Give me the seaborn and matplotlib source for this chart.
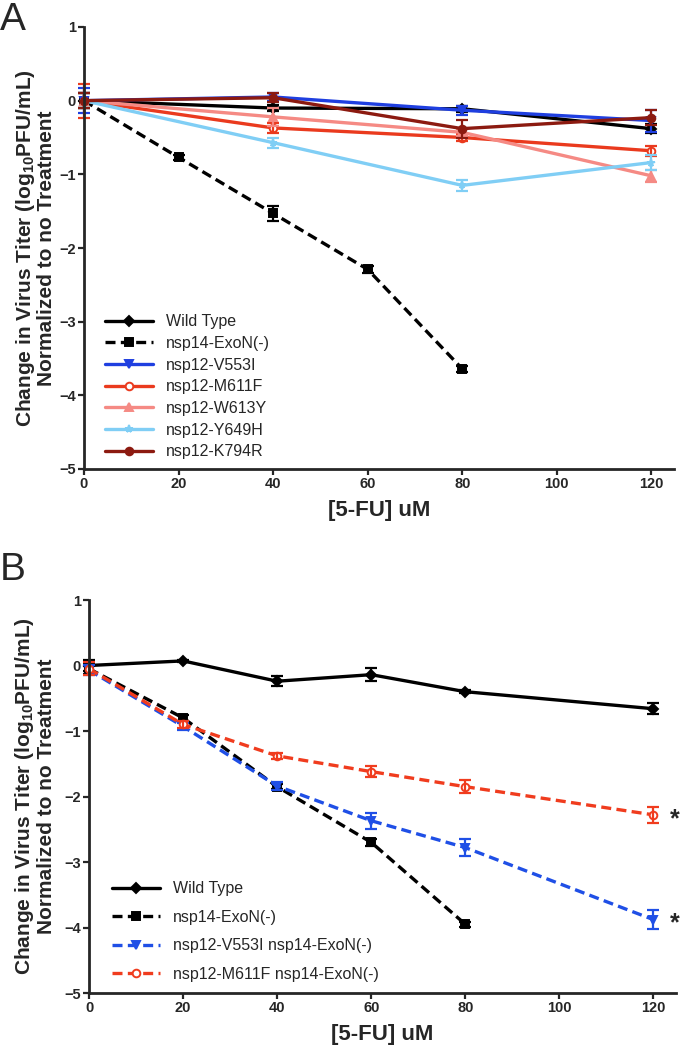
import numpy as np
import matplotlib
matplotlib.use("Agg")
import matplotlib.pyplot as plt
import seaborn as sns

# Panel A: single nsp12 mutants vs 5-FU
conc = [0, 40, 80, 120]
conc_exon = [0, 20, 40, 60, 80]

a_wt = [0, -0.10, -0.11, -0.38]
a_wt_err = [0.10, 0.04, 0.04, 0.06]
a_exon = [0, -0.77, -1.53, -2.29, -3.64]
a_exon_err = [0.10, 0.03, 0.10, 0.05, 0.04]
a_v553i = [0, 0.05, -0.13, -0.27]
a_v553i_err = [0.17, 0.06, 0.06, 0.15]
a_m611f = [0, -0.37, -0.50, -0.68]
a_m611f_err = [0.23, 0.07, 0.05, 0.07]
a_w613y = [0, -0.22, -0.43, -1.02]
a_w613y_err = [0.10, 0.12, 0.05, 0.08]
a_y649h = [0, -0.57, -1.15, -0.84]
a_y649h_err = [0.10, 0.07, 0.07, 0.10]
a_k794r = [0, 0.04, -0.38, -0.23]
a_k794r_err = [0.10, 0.06, 0.12, 0.10]

# Panel B: nsp12 mutants in the nsp14-ExoN(-) background
conc_b = [0, 20, 40, 60, 80, 120]
b_wt = [0, 0.07, -0.24, -0.14, -0.40, -0.66]
b_wt_err = [0.08, 0.02, 0.08, 0.10, 0.02, 0.08]
b_exon = [-0.05, -0.80, -1.85, -2.70, -3.95]
b_exon_err = [0.08, 0.05, 0.04, 0.05, 0.04]
b_v553i = [-0.07, -0.93, -1.84, -2.37, -2.78, -3.88]
b_v553i_err = [0.08, 0.05, 0.06, 0.12, 0.13, 0.15]
b_m611f = [-0.05, -0.90, -1.38, -1.62, -1.85, -2.28]
b_m611f_err = [0.10, 0.05, 0.05, 0.08, 0.10, 0.12]

sns.set_style("ticks")
plt.rcParams["font.family"] = ["Liberation Sans", "DejaVu Sans"]
plt.rcParams["mathtext.fontset"] = "custom"
plt.rcParams["mathtext.bf"] = "Liberation Sans:bold"
plt.rcParams["mathtext.rm"] = "Liberation Sans:bold"
plt.rcParams["mathtext.default"] = "bf"

fig = plt.figure(figsize=(6.8, 10.53), dpi=100)
ax_a = fig.add_axes([84 / 680, 1 - 469 / 1053, 590 / 680, 442 / 1053])
ax_b = fig.add_axes([89 / 680, 1 - 993 / 1053, 587 / 680, 393 / 1053])

DASH = (0, (3, 1.6))


def draw(ax, x, y, err, name, color, marker, ls, mfc=None):
    sns.lineplot(x=x, y=y, ax=ax, color=color, marker=marker, linestyle=ls,
                 lw=2.4, markersize=5.5, markeredgecolor=color,
                 markeredgewidth=1.4, markerfacecolor=mfc or color,
                 label=name, errorbar=None, sort=False)
    ax.errorbar(x, y, yerr=err, fmt="none", ecolor=color, elinewidth=1.6,
                capsize=4.5, capthick=1.6)


draw(ax_a, conc, a_wt, a_wt_err, "Wild Type", "black", "D", "-")
draw(ax_a, conc_exon, a_exon, a_exon_err, "nsp14-ExoN(-)", "black", "s", DASH)
draw(ax_a, conc, a_v553i, a_v553i_err, "nsp12-V553I", "#1f3fe0", "v", "-")
draw(ax_a, conc, a_m611f, a_m611f_err, "nsp12-M611F", "#ea3a1e", "o", "-", mfc="white")
draw(ax_a, conc, a_w613y, a_w613y_err, "nsp12-W613Y", "#f58a84", "^", "-")
draw(ax_a, conc, a_y649h, a_y649h_err, "nsp12-Y649H", "#80cef5", "*", "-")
draw(ax_a, conc, a_k794r, a_k794r_err, "nsp12-K794R", "#8c1a10", "o", "-")

draw(ax_b, conc_b, b_wt, b_wt_err, "Wild Type", "black", "D", "-")
draw(ax_b, conc_exon, b_exon, b_exon_err, "nsp14-ExoN(-)", "black", "s", DASH)
draw(ax_b, conc_b, b_v553i, b_v553i_err, "nsp12-V553I nsp14-ExoN(-)", "#1f4fe6", "v", DASH)
draw(ax_b, conc_b, b_m611f, b_m611f_err, "nsp12-M611F nsp14-ExoN(-)", "#f03c1e", "o", DASH, mfc="white")

ylab = "Change in Virus Titer (log$_{10}$PFU/mL)\nNormalized to no Treatment"
for ax in (ax_a, ax_b):
    ax.set_xlim(0, 124.8)
    ax.set_ylim(-5, 1)
    ax.set_xticks([0, 20, 40, 60, 80, 100, 120])
    ax.set_yticks([-5, -4, -3, -2, -1, 0, 1])
    sns.despine(ax=ax)
    for s in ("left", "bottom"):
        ax.spines[s].set_linewidth(2.0)
        ax.spines[s].set_clip_on(False)
    ax.tick_params(width=1.6, length=4, labelsize=10.5, pad=2)
    for lab in ax.get_xticklabels() + ax.get_yticklabels():
        lab.set_fontweight("bold")
    ax.set_xlabel("[5-FU] uM", fontsize=16, fontweight="bold", labelpad=6)
    ax.set_ylabel(ylab, fontsize=15, fontweight="bold", linespacing=1.05)
    for line in ax.lines:
        line.set_clip_on(False)
    for c in ax.collections:
        c.set_clip_on(False)

ax_a.yaxis.set_label_coords(-0.047, 0.5)
ax_b.yaxis.set_label_coords(-0.056, 0.5)

ax_a.legend(loc="lower left", bbox_to_anchor=(0.02, 0.0), frameon=False,
            fontsize=11.5, handlelength=3.0, handletextpad=0.8,
            labelspacing=0.42, borderaxespad=0.2)
ax_b.legend(loc="lower left", bbox_to_anchor=(0.02, 0.0), frameon=False,
            fontsize=11.5, handlelength=3.0, handletextpad=0.8,
            labelspacing=0.85, borderaxespad=0.3)

# significance marks
ax_b.annotate("*", xy=(120, b_m611f[-1]), xytext=(12, -3), textcoords="offset points",
              fontsize=18, fontweight="bold", va="center", annotation_clip=False)
ax_b.annotate("*", xy=(120, b_v553i[-1]), xytext=(12, -3), textcoords="offset points",
              fontsize=18, fontweight="bold", va="center", annotation_clip=False)

fig.text(0.0, 0.998, "A", fontsize=28, va="top", ha="left")
fig.text(0.0, 1 - 552 / 1053, "B", fontsize=28, va="top", ha="left")

fig.savefig("out.png", dpi=100)
